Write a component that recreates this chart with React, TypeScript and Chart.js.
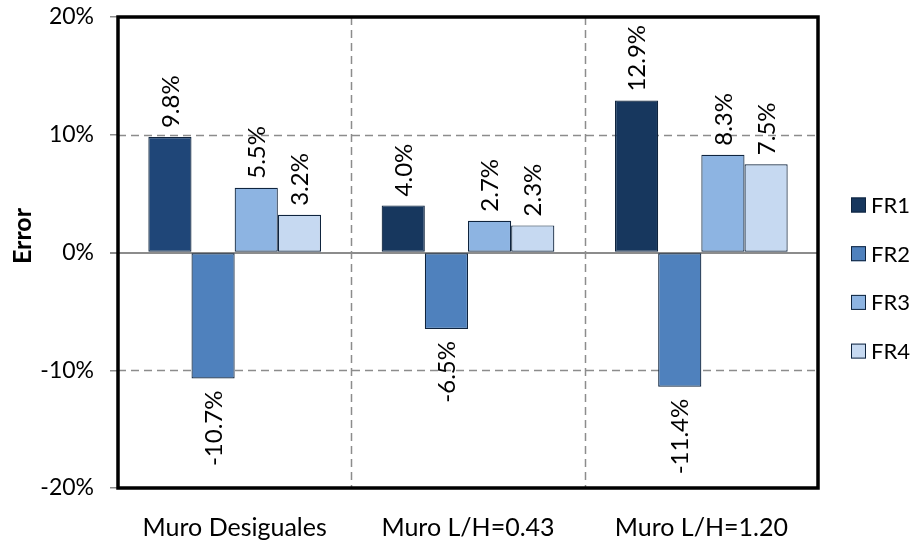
import React, { useEffect, useRef } from "react";
import { Chart, registerables } from "chart.js";

Chart.register(...registerables);

const categories = ["Muro Desiguales", "Muro L/H=0.43", "Muro L/H=1.20"];
const seriesNames = ["FR1", "FR2", "FR3", "FR4"];
const fr1 = [9.8, 4.0, 12.9];
const fr2 = [-10.7, -6.5, -11.4];
const fr3 = [5.5, 2.7, 8.3];
const fr4 = [3.2, 2.3, 7.5];
const yTicks = [-20, -10, 0, 10, 20];
const yTitle = "Error";

const FONT = "Lato, 'Noto Sans', sans-serif";

const fr1Colors = ["#1F4678", "#17375E", "#17375E"];
const colors = ["#17375E", "#4F81BD", "#8DB4E2", "#C6D9F1"];

export default function App() {
  const ref = useRef<HTMLCanvasElement | null>(null);

  useEffect(() => {
    if (!ref.current) return;

    const overlay = {
      id: "overlay",
      beforeDatasetsDraw(chart: any) {
        const { ctx, chartArea } = chart;
        const ys = chart.scales.y;
        const xs = chart.scales.x;
        ctx.save();
        ctx.strokeStyle = "#8C8C8C";
        ctx.lineWidth = 1.5;
        ctx.setLineDash([8, 5]);
        yTicks.forEach((t) => {
          if (t === 0 || t === 20 || t === -20) return;
          const y = Math.round(ys.getPixelForValue(t)) + 0.5;
          ctx.beginPath();
          ctx.moveTo(chartArea.left, y);
          ctx.lineTo(chartArea.right, y);
          ctx.stroke();
        });
        for (let i = 1; i < categories.length; i++) {
          const x =
            Math.round((xs.getPixelForValue(i - 1) + xs.getPixelForValue(i)) / 2) + 0.5;
          ctx.beginPath();
          ctx.moveTo(x, chartArea.top);
          ctx.lineTo(x, chartArea.bottom);
          ctx.stroke();
        }
        ctx.setLineDash([]);
        ctx.strokeStyle = "#8C8C8C";
        ctx.lineWidth = 2;
        const y0 = Math.round(ys.getPixelForValue(0));
        ctx.beginPath();
        ctx.moveTo(chartArea.left - 8, y0);
        ctx.lineTo(chartArea.right, y0);
        ctx.stroke();
        ctx.restore();
      },
      afterDatasetsDraw(chart: any) {
        const { ctx } = chart;
        ctx.save();
        ctx.fillStyle = "#000";
        ctx.font = `24px ${FONT}`;
        ctx.textBaseline = "middle";
        chart.data.datasets.forEach((ds: any, di: number) => {
          const meta = chart.getDatasetMeta(di);
          meta.data.forEach((bar: any, i: number) => {
            const v = ds.data[i];
            const txt = v.toFixed(1) + "%";
            ctx.save();
            if (v >= 0) {
              ctx.translate(bar.x + 1, bar.y - 9);
              ctx.rotate(-Math.PI / 2);
              ctx.textAlign = "left";
            } else {
              ctx.translate(bar.x + 1, bar.y + 12);
              ctx.rotate(-Math.PI / 2);
              ctx.textAlign = "right";
            }
            ctx.fillText(txt, 0, 0);
            ctx.restore();
          });
        });
        ctx.restore();
      },
      afterDraw(chart: any) {
        const { ctx, chartArea } = chart;
        ctx.save();
        ctx.strokeStyle = "#000";
        ctx.lineWidth = 3.5;
        ctx.strokeRect(
          chartArea.left,
          chartArea.top,
          chartArea.right - chartArea.left,
          chartArea.bottom - chartArea.top
        );
        // y-axis title
        ctx.save();
        ctx.translate(23, 236);
        ctx.rotate(-Math.PI / 2);
        ctx.font = `bold 25px ${FONT}`;
        ctx.fillStyle = "#000";
        ctx.textAlign = "center";
        ctx.textBaseline = "middle";
        ctx.fillText(yTitle, 0, 0);
        ctx.restore();
        // legend
        const lx = 851;
        const ly0 = 205;
        const step = 48.7;
        ctx.font = `22px ${FONT}`;
        ctx.textBaseline = "middle";
        ctx.textAlign = "left";
        chart.data.datasets.forEach((ds: any, di: number) => {
          const y = ly0 + di * step;
          ctx.fillStyle = colors[di];
          ctx.fillRect(lx, y - 7.5, 15, 15);
          ctx.strokeStyle = "#0F243E";
          ctx.lineWidth = 1;
          ctx.strokeRect(lx + 0.5, y - 7, 14, 14);
          ctx.fillStyle = "#000";
          ctx.fillText(ds.label, lx + 20, y + 1);
        });
        ctx.restore();
      },
    };

    const chart = new Chart(ref.current, {
      type: "bar",
      data: {
        labels: categories,
        datasets: [
          { label: seriesNames[0], data: fr1, backgroundColor: fr1Colors },
          { label: seriesNames[1], data: fr2, backgroundColor: colors[1] },
          { label: seriesNames[2], data: fr3, backgroundColor: colors[2] },
          { label: seriesNames[3], data: fr4, backgroundColor: colors[3] },
        ].map((d) => ({
          ...d,
          borderColor: "#0F243E",
          borderWidth: 1.2,
          borderSkipped: false,
          categoryPercentage: 0.74,
          barPercentage: 1,
        })),
      },
      options: {
        animation: false,
        responsive: false,
        maintainAspectRatio: false,
        layout: { padding: { top: 17, right: 96, left: 0, bottom: 0 } },
        plugins: {
          legend: { display: false },
          tooltip: { enabled: false },
        },
        scales: {
          x: {
            grid: { display: false, drawTicks: false },
            border: { display: false },
            ticks: {
              color: "#000",
              padding: 25,
              maxRotation: 0,
              font: { family: FONT, size: 25 },
            },
            afterFit(scale: any) {
              scale.height = 55;
              scale.paddingLeft = 0;
              scale.paddingRight = 0;
            },
          },
          y: {
            min: -20,
            max: 20,
            afterBuildTicks(scale: any) {
              scale.ticks = yTicks.map((v) => ({ value: v }));
            },
            grid: {
              drawOnChartArea: false,
              drawTicks: true,
              tickLength: 8,
              color: "#8C8C8C",
              lineWidth: 1.5,
            },
            border: { display: false },
            ticks: {
              color: "#000",
              padding: 16,
              font: { family: FONT, size: 23 },
              callback: (v: any) => v + "%",
            },
            afterFit(scale: any) {
              scale.width = 118;
              scale.paddingTop = 0;
              scale.paddingBottom = 0;
            },
          },
        },
      },
      plugins: [overlay],
    });
    return () => chart.destroy();
  }, []);

  return (
    <div style={{ position: "fixed", left: 0, top: 0, width: 914, height: 543, background: "#fff" }}>
      <canvas ref={ref} width={914} height={543} style={{ width: 914, height: 543 }} />
    </div>
  );
}
